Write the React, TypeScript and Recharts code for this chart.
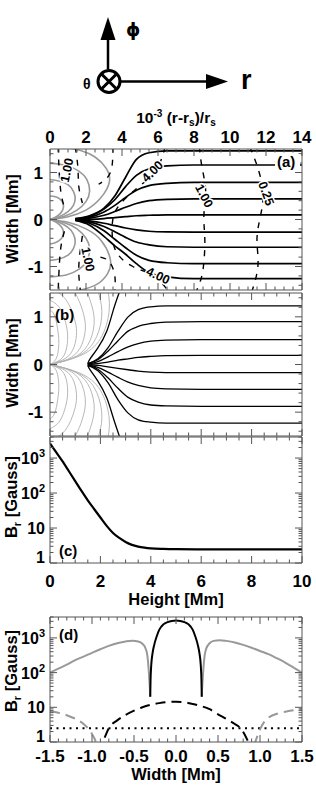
import React from 'react';
import { LineChart, Line, XAxis, YAxis, ReferenceLine, ReferenceDot } from 'recharts';

const FONT = '"Liberation Sans", Arial, Helvetica, sans-serif';
const AXIS = '#555';
const GRAY = '#999';

// ---------- panel (a): field lines, x in 10^-3 (r-rs)/rs ----------
const radialTicksA = [0, 2, 4, 6, 8, 10, 12, 14];
const radialLabelsA = ['0', '2', '4', '6', '8', '10', '12', '14'];
const widthTicks = [-1, 0, 1];
const widthLabels = ['-1', '0', '1'];

const fanXA = [1.4, 2.2, 3.0, 3.6, 4.2, 4.8, 5.5, 6.5, 8.0, 14];
const fanYA = [
  [0.02, 0.08, 0.24, 0.5, 0.9, 1.28, 1.42, 1.46, 1.46, 1.46],
  [0.015, 0.07, 0.22, 0.42, 0.7, 0.94, 1.08, 1.14, 1.16, 1.16],
  [0.01, 0.05, 0.16, 0.3, 0.47, 0.62, 0.72, 0.77, 0.79, 0.79],
  [0.005, 0.03, 0.09, 0.17, 0.26, 0.34, 0.4, 0.43, 0.44, 0.44],
  [0.0, 0.005, 0.02, 0.04, 0.06, 0.08, 0.09, 0.1, 0.1, 0.1],
  [-0.005, -0.03, -0.08, -0.13, -0.18, -0.22, -0.25, -0.265, -0.27, -0.27],
  [-0.01, -0.05, -0.15, -0.26, -0.38, -0.48, -0.54, -0.58, -0.59, -0.59],
  [-0.015, -0.08, -0.24, -0.42, -0.6, -0.76, -0.87, -0.92, -0.94, -0.94],
  [-0.02, -0.12, -0.36, -0.56, -0.74, -0.94, -1.13, -1.22, -1.26, -1.26],
];

const loopsA: number[][][] = [
  [[0, 0], [0.3, 0.05], [0.55, 0.12], [0.7, 0.2], [0.75, 0.29], [0.68, 0.38], [0.5, 0.45], [0.25, 0.49], [0, 0.5]],
  [[0, 0], [0.5, 0.06], [1.0, 0.17], [1.3, 0.3], [1.4, 0.45], [1.3, 0.6], [1.0, 0.74], [0.5, 0.82], [0, 0.85]],
  [[0, 0], [0.8, 0.07], [1.5, 0.2], [2.0, 0.38], [2.2, 0.6], [2.05, 0.85], [1.6, 1.03], [0.9, 1.15], [0, 1.2]],
  [[0, 0], [1.0, 0.06], [2.0, 0.2], [2.8, 0.45], [3.3, 0.8], [3.1, 1.1], [2.5, 1.33], [1.7, 1.47], [0.8, 1.53], [0, 1.55]],
  [[0, 0], [0.3, -0.05], [0.55, -0.12], [0.7, -0.2], [0.75, -0.29], [0.68, -0.38], [0.5, -0.45], [0.25, -0.5], [0, -0.52]],
  [[0, 0], [0.5, -0.06], [1.0, -0.17], [1.3, -0.31], [1.4, -0.47], [1.3, -0.62], [1.0, -0.76], [0.5, -0.84], [0, -0.87]],
  [[0, 0], [0.8, -0.07], [1.5, -0.2], [2.0, -0.4], [2.2, -0.62], [2.05, -0.88], [1.6, -1.06], [0.9, -1.18], [0, -1.22]],
  [[0, 0], [1.0, -0.06], [2.0, -0.2], [2.85, -0.45], [3.35, -0.85], [3.2, -1.15], [2.6, -1.38], [1.7, -1.5], [0.8, -1.56], [0, -1.58]],
];

const contoursA: number[][][] = [
  [[11.1, 1.55], [11.5, 1.15], [11.8, 0.7], [11.8, 0.3], [11.6, -0.1], [11.5, -0.5], [11.55, -1.0], [11.2, -1.55]],
  [[8.3, 1.55], [8.45, 1.1], [8.65, 0.6], [8.55, 0.1], [8.6, -0.4], [8.55, -0.9], [8.4, -1.25], [8.1, -1.55]],
  [[6.4, 1.55], [5.9, 1.05], [5.0, 0.72], [4.2, 0.45], [3.6, 0.15], [3.45, -0.25], [3.7, -0.7], [4.6, -1.0], [5.5, -1.15], [6.2, -1.35], [6.6, -1.55]],
  [[0.45, 1.55], [0.5, 1.1], [0.6, 0.6], [0.8, 0.25]],
  [[0.8, -0.25], [0.6, -0.6], [0.5, -1.1], [0.45, -1.55]],
  [[1.4, 1.55], [1.55, 1.1], [1.6, 0.7], [1.8, 0.35]],
  [[1.8, -0.35], [1.65, -0.75], [1.6, -1.15], [1.7, -1.55]],
  [[3.5, 1.55], [3.45, 1.15], [3.2, 0.9], [2.7, 0.75]],
  [[2.8, -0.8], [3.3, -0.9], [3.6, -1.2], [3.6, -1.55]],
];

const contourLabelsA = [
  { x: 5.7, y: 1.02, text: '4.00' },
  { x: 8.55, y: 0.5, text: '1.00' },
  { x: 12.0, y: 0.55, text: '0.25' },
  { x: 6.0, y: -1.2, text: '4.00' },
  { x: 0.95, y: 1.05, text: '1.00' },
  { x: 2.1, y: -0.85, text: '1.00' },
];
const contourLabelAngles = [-45, 62, 70, 25, -78, 78];

// ---------- panel (b): field lines, x in Mm ----------
const heightTicks = [0, 2, 4, 6, 8, 10];
const heightLabels = ['0', '2', '4', '6', '8', '10'];

const fanXB = [1.5, 1.9, 2.3, 2.7, 3.1, 3.5, 4.0, 4.6, 6.0, 10];
const fanYB = [
  [0.02, 0.12, 0.35, 0.7, 1.0, 1.15, 1.21, 1.23, 1.23, 1.23],
  [0.015, 0.1, 0.28, 0.5, 0.7, 0.8, 0.86, 0.89, 0.9, 0.9],
  [0.01, 0.06, 0.16, 0.27, 0.37, 0.44, 0.49, 0.51, 0.52, 0.52],
  [0.005, 0.02, 0.05, 0.09, 0.12, 0.15, 0.17, 0.185, 0.19, 0.19],
  [-0.005, -0.02, -0.05, -0.08, -0.11, -0.14, -0.16, -0.17, -0.17, -0.17],
  [-0.01, -0.06, -0.16, -0.27, -0.37, -0.44, -0.49, -0.51, -0.52, -0.52],
  [-0.015, -0.1, -0.28, -0.5, -0.69, -0.79, -0.85, -0.87, -0.88, -0.88],
  [-0.02, -0.13, -0.38, -0.74, -1.02, -1.16, -1.21, -1.23, -1.23, -1.23],
];

const separatrixB: number[][][] = [
  [[1.5, 0.02], [1.59, 0.12], [1.9, 0.35], [2.26, 0.71], [2.5, 1.12], [2.74, 1.5], [2.8, 1.6]],
  [[1.5, -0.02], [1.6, -0.12], [1.9, -0.35], [2.25, -0.7], [2.5, -1.1], [2.75, -1.5], [2.8, -1.6]],
];

const loopsB: number[][][] = [
  [[0, 0], [0.18, 0.07], [0.3, 0.21], [0.35, 0.44], [0.33, 0.64], [0.27, 0.85], [0.17, 1.04], [0, 1.15]],
  [[0, 0], [0.35, 0.08], [0.6, 0.24], [0.7, 0.51], [0.67, 0.76], [0.55, 1.0], [0.34, 1.22], [0, 1.35]],
  [[0, 0], [0.52, 0.1], [0.89, 0.29], [1.05, 0.61], [1.0, 0.9], [0.82, 1.18], [0.5, 1.44], [0, 1.6]],
  [[0, 0], [0.7, 0.11], [1.19, 0.34], [1.4, 0.72], [1.33, 1.06], [1.09, 1.41], [0.67, 1.71], [0, 1.9]],
  [[0, 0], [0.88, 0.13], [1.49, 0.4], [1.75, 0.84], [1.66, 1.23], [1.37, 1.63], [0.84, 1.98], [0, 2.2]],
  [[0, 0], [1.03, 0.16], [1.74, 0.47], [2.05, 0.99], [1.95, 1.46], [1.6, 1.92], [0.98, 2.34], [0, 2.6]],
  [[0, 0], [1.18, 0.18], [2.0, 0.54], [2.35, 1.14], [2.23, 1.68], [1.83, 2.22], [1.13, 2.7], [0, 3.0]],
  [[0, 0], [0.18, -0.07], [0.3, -0.21], [0.35, -0.44], [0.33, -0.64], [0.27, -0.85], [0.17, -1.04], [0, -1.15]],
  [[0, 0], [0.35, -0.08], [0.6, -0.24], [0.7, -0.51], [0.67, -0.76], [0.55, -1.0], [0.34, -1.22], [0, -1.35]],
  [[0, 0], [0.52, -0.1], [0.89, -0.29], [1.05, -0.61], [1.0, -0.9], [0.82, -1.18], [0.5, -1.44], [0, -1.6]],
  [[0, 0], [0.7, -0.11], [1.19, -0.34], [1.4, -0.72], [1.33, -1.06], [1.09, -1.41], [0.67, -1.71], [0, -1.9]],
  [[0, 0], [0.88, -0.13], [1.49, -0.4], [1.75, -0.84], [1.66, -1.23], [1.37, -1.63], [0.84, -1.98], [0, -2.2]],
  [[0, 0], [1.03, -0.16], [1.74, -0.47], [2.05, -0.99], [1.95, -1.46], [1.6, -1.92], [0.98, -2.34], [0, -2.6]],
  [[0, 0], [1.18, -0.18], [2.0, -0.54], [2.35, -1.14], [2.23, -1.68], [1.83, -2.22], [1.13, -2.7], [0, -3.0]],
];

// ---------- panel (c): Br vs height ----------
const heightMm = [0, 0.25, 0.5, 0.75, 1, 1.25, 1.5, 1.75, 2, 2.25, 2.5, 2.75, 3, 3.25, 3.5, 3.75, 4, 4.5, 5, 6, 7, 8, 9, 10];
const brAlongHeight = [2600, 1450, 800, 420, 220, 115, 62, 35, 20, 11.5, 7.2, 5.2, 4.0, 3.3, 2.95, 2.75, 2.62, 2.52, 2.48, 2.46, 2.45, 2.45, 2.45, 2.45];

const logMajor = [1, 10, 100, 1000];
const logLabels = ['1', '10', '10^2', '10^3'];

// ---------- panel (d): Br across width ----------
const widthTicksD = [-1.5, -1.0, -0.5, 0, 0.5, 1.0, 1.5];
const widthLabelsD = ['-1.5', '-1.0', '-0.5', '0.0', '0.5', '1.0', '1.5'];

const grayLeftX = [-1.5, -1.4, -1.3, -1.2, -1.1, -1.0, -0.9, -0.8, -0.7, -0.6, -0.52, -0.45, -0.4, -0.36, -0.34, -0.325, -0.315, -0.305];
const grayLeftB = [100, 130, 170, 230, 290, 370, 470, 590, 700, 790, 830, 790, 680, 480, 300, 120, 50, 20];
const grayRightX = [0.305, 0.315, 0.325, 0.34, 0.36, 0.4, 0.45, 0.52, 0.6, 0.7, 0.8, 0.9, 1.0, 1.1, 1.2, 1.3, 1.4, 1.5];
const grayRightB = [20, 50, 120, 300, 490, 700, 820, 860, 820, 740, 630, 520, 420, 340, 260, 195, 140, 100];

const domeX = [-0.307, -0.303, -0.295, -0.28, -0.26, -0.23, -0.2, -0.15, -0.1, -0.05, 0, 0.05, 0.1, 0.15, 0.2, 0.23, 0.26, 0.28, 0.295, 0.303, 0.307];
const domeB = [20, 60, 160, 350, 620, 1100, 1700, 2450, 2850, 3080, 3150, 3080, 2850, 2450, 1700, 1100, 620, 350, 160, 60, 20];

const blackDashX = [-0.92, -0.87, -0.8, -0.7, -0.6, -0.5, -0.4, -0.3, -0.2, -0.1, 0, 0.1, 0.2, 0.3, 0.4, 0.5, 0.6, 0.7, 0.76, 0.82, 0.86, 0.9];
const blackDashB = [0.5, 1.0, 2.5, 4.2, 6.0, 8.0, 10.0, 11.8, 13.2, 14.2, 14.5, 14.0, 12.5, 10.8, 8.8, 6.3, 4.6, 3.3, 2.6, 1.6, 1.0, 0.55];

const grayDashLeftX = [-1.5, -1.4, -1.3, -1.2, -1.1, -1.05, -1.0, -0.96, -0.93];
const grayDashLeftB = [7.7, 7.0, 5.9, 4.7, 3.3, 2.5, 1.7, 1.1, 0.6];
const grayDashRightX = [0.93, 0.96, 1.0, 1.05, 1.1, 1.2, 1.3, 1.4, 1.5];
const grayDashRightB = [0.8, 1.3, 2.3, 3.8, 5.0, 6.5, 7.4, 8.2, 8.7];

const dottedLevel = 2.5;

// ---------- helpers ----------
const zip = (xs: number[], ys: number[]) => xs.map((x, i) => ({ x, y: ys[i] }));
const pairs = (pts: number[][]) => pts.map(([x, y]) => ({ x, y }));

const steps = (lo: number, hi: number, step: number) => {
  const out: number[] = [];
  for (let v = lo; v <= hi + 1e-9; v += step) out.push(Math.round(v * 1000) / 1000);
  return out;
};
const logMinor = [1, 10, 100, 1000].flatMap((d) => [1, 2, 3, 4, 5, 6, 7, 8, 9].map((m) => d * m)).filter((v) => v <= 4000);

const txt = { fontFamily: FONT, fontWeight: 700, fill: '#000' } as const;

const renderLabel = (s: string) => {
  if (!s.includes('^')) return s;
  const [base, exp] = s.split('^');
  return (
    <>
      <tspan>{base}</tspan>
      <tspan dy={-7} fontSize={11}>{exp}</tspan>
    </>
  );
};

type Side = 'top' | 'bottom' | 'left' | 'right';

function axisTick(side: Side, majors: number[], labels?: string[], gap = 0, log = false) {
  return (props: any) => {
    const { x, y, payload } = props;
    const idx = majors.findIndex((m) => Math.abs(m - payload.value) < 1e-6);
    const len = idx >= 0 ? 7 : 3.5;
    const dx = side === 'left' ? len : side === 'right' ? -len : 0;
    const dy = side === 'bottom' ? -len : side === 'top' ? len : 0;
    let label: React.ReactNode = null;
    if (idx >= 0 && labels) {
      if (side === 'left') {
        // the lowest log label sits just above the bottom edge, as in the figure
        const raise = log && idx === 0 ? 0 : 6;
        label = (
          <text x={x - (log ? 5 : 7)} y={y + raise} textAnchor="end" fontSize={log ? 16 : 17} {...txt}>
            {renderLabel(labels[idx])}
          </text>
        );
      } else if (side === 'bottom')
        label = (
          <text x={x} y={y + gap} textAnchor="middle" fontSize={17} {...txt}>
            {labels[idx]}
          </text>
        );
      else if (side === 'top')
        label = (
          <text x={x} y={y - gap} textAnchor="middle" fontSize={17} {...txt}>
            {labels[idx]}
          </text>
        );
    }
    return (
      <g>
        <line x1={x} y1={y} x2={x + dx} y2={y + dy} stroke={AXIS} strokeWidth={1} />
        {label}
      </g>
    );
  };
}

const axisCommon = {
  allowDataOverflow: true,
  interval: 0 as const,
  tickSize: 0,
  tickMargin: 0,
  tickLine: false,
  axisLine: { stroke: AXIS, strokeWidth: 1 },
};

interface FrameOpts {
  xDomain: [number, number];
  xTicks: number[];
  xMajors: number[];
  topLabels?: string[];
  bottomLabels?: string[];
  topH: number;
  bottomH: number;
  topGap?: number;
  bottomGap?: number;
  yDomain: [number, number];
  yTicks: number[];
  yMajors: number[];
  yLabels: string[];
  log?: boolean;
}

function frame(o: FrameOpts) {
  const yScale = o.log ? 'log' : 'auto';
  return [
    <XAxis key="xb" xAxisId="b" dataKey="x" type="number" orientation="bottom" domain={o.xDomain} ticks={o.xTicks} height={o.bottomH}
      tick={axisTick('bottom', o.xMajors, o.bottomLabels, o.bottomGap)} {...axisCommon} />,
    <XAxis key="xt" xAxisId="t" dataKey="x" type="number" orientation="top" domain={o.xDomain} ticks={o.xTicks} height={o.topH}
      tick={axisTick('top', o.xMajors, o.topLabels, o.topGap)} {...axisCommon} />,
    <YAxis key="yl" yAxisId="l" type="number" orientation="left" scale={yScale} domain={o.yDomain} ticks={o.yTicks} width={50}
      tick={axisTick('left', o.yMajors, o.yLabels, 0, !!o.log)} {...axisCommon} />,
    <YAxis key="yr" yAxisId="r" type="number" orientation="right" scale={yScale} domain={o.yDomain} ticks={o.yTicks} width={14}
      tick={axisTick('right', o.yMajors)} {...axisCommon} />,
  ];
}

const lineCommon = {
  xAxisId: 'b',
  yAxisId: 'l',
  dataKey: 'y',
  dot: false,
  activeDot: false,
  isAnimationActive: false,
};

const M0 = { top: 0, right: 0, bottom: 0, left: 0 };

function PanelA() {
  return (
    <LineChart width={316} height={192} margin={M0}>
      {frame({
        xDomain: [0, 14], xTicks: steps(0, 14, 0.5), xMajors: radialTicksA, topLabels: radialLabelsA,
        topH: 49, bottomH: 2, topGap: 6,
        yDomain: [-1.5, 1.5], yTicks: steps(-1.4, 1.4, 0.2), yMajors: widthTicks, yLabels: widthLabels,
      })}
      {loopsA.map((pts, i) => (
        <Line key={`ga${i}`} {...lineCommon} data={pairs(pts)} type="natural" stroke={GRAY} strokeWidth={1.6} />
      ))}
      {contoursA.map((pts, i) => (
        <Line key={`ca${i}`} {...lineCommon} data={pairs(pts)} type="natural" stroke="#000" strokeWidth={1.4} strokeDasharray="6 7" />
      ))}
      {fanYA.map((ys, i) => (
        <Line key={`fa${i}`} {...lineCommon} data={zip(fanXA, ys)} type="monotone" stroke="#000" strokeWidth={1.7} />
      ))}
      {contourLabelsA.map((l, i) => (
        <ReferenceDot
          key={`la${i}`}
          xAxisId="b"
          yAxisId="l"
          x={l.x}
          y={l.y}
          r={0}
          shape={(p: any) => (
            <text
              x={p.cx}
              y={p.cy}
              transform={`rotate(${contourLabelAngles[i]} ${p.cx} ${p.cy})`}
              textAnchor="middle"
              dominantBaseline="central"
              fontSize={12.5}
              stroke="#fff"
              strokeWidth={3}
              paintOrder="stroke"
              {...txt}
            >
              {l.text}
            </text>
          )}
        />
      ))}
    </LineChart>
  );
}

function PanelB() {
  return (
    <LineChart width={316} height={146} margin={M0}>
      {frame({
        xDomain: [0, 10], xTicks: steps(0, 10, 0.5), xMajors: heightTicks,
        topH: 1, bottomH: 2,
        yDomain: [-1.5, 1.5], yTicks: steps(-1.4, 1.4, 0.2), yMajors: widthTicks, yLabels: widthLabels,
      })}
      {loopsB.map((pts, i) => (
        <Line key={`gb${i}`} {...lineCommon} data={pairs(pts)} type="natural" stroke="#b0b0b0" strokeWidth={0.9} />
      ))}
      {separatrixB.map((pts, i) => (
        <Line key={`sb${i}`} {...lineCommon} data={pairs(pts)} type="natural" stroke="#000" strokeWidth={1.3} />
      ))}
      {fanYB.map((ys, i) => (
        <Line key={`fb${i}`} {...lineCommon} data={zip(fanXB, ys)} type="monotone" stroke="#000" strokeWidth={1.3} />
      ))}
    </LineChart>
  );
}

function PanelC() {
  return (
    <LineChart width={316} height={180} margin={M0}>
      {frame({
        xDomain: [0, 10], xTicks: steps(0, 10, 0.5), xMajors: heightTicks, bottomLabels: heightLabels,
        topH: 1, bottomH: 53, bottomGap: 24,
        yDomain: [1, 4000], yTicks: logMinor, yMajors: logMajor, yLabels: logLabels, log: true,
      })}
      <Line {...lineCommon} data={zip(heightMm, brAlongHeight)} type="monotone" stroke="#000" strokeWidth={2.2} />
    </LineChart>
  );
}

function PanelD() {
  return (
    <LineChart width={316} height={180} margin={M0}>
      {frame({
        xDomain: [-1.5, 1.5], xTicks: steps(-1.5, 1.5, 0.1), xMajors: widthTicksD, bottomLabels: widthLabelsD,
        topH: 17, bottomH: 38, bottomGap: 20,
        yDomain: [1, 4000], yTicks: logMinor, yMajors: logMajor, yLabels: logLabels, log: true,
      })}
      <ReferenceLine xAxisId="b" yAxisId="l" y={dottedLevel} stroke="#000" strokeWidth={2} strokeDasharray="2 4.5" />
      <Line {...lineCommon} data={zip(grayDashLeftX, grayDashLeftB)} type="monotone" stroke={GRAY} strokeWidth={2} strokeDasharray="10 6" />
      <Line {...lineCommon} data={zip(grayDashRightX, grayDashRightB)} type="monotone" stroke={GRAY} strokeWidth={2} strokeDasharray="10 6" />
      <Line {...lineCommon} data={zip(blackDashX, blackDashB)} type="monotone" stroke="#000" strokeWidth={2} strokeDasharray="10 6" />
      <Line {...lineCommon} data={zip(grayLeftX, grayLeftB)} type="monotone" stroke={GRAY} strokeWidth={2} />
      <Line {...lineCommon} data={zip(grayRightX, grayRightB)} type="monotone" stroke={GRAY} strokeWidth={2} />
      <Line {...lineCommon} data={zip(domeX, domeB)} type="monotone" stroke="#000" strokeWidth={2} />
    </LineChart>
  );
}

function Overlay() {
  const vTitle = (cx: number, cy: number, body: React.ReactNode) => (
    <text transform={`translate(${cx},${cy}) rotate(-90)`} textAnchor="middle" fontSize={16.5} {...txt}>
      {body}
    </text>
  );
  const brTitle = (
    <>
      B<tspan dy={4} fontSize={11}>r</tspan>
      <tspan dy={-4}> [Gauss]</tspan>
    </>
  );
  return (
    <svg width={316} height={789} style={{ position: 'absolute', left: 0, top: 0, pointerEvents: 'none' }}>
      {/* coordinate glyph */}
      <line x1={108} y1={69} x2={108} y2={38} stroke="#000" strokeWidth={2.5} />
      <polygon points="108,17 100.5,40 115.5,40" fill="#000" />
      <text x={126} y={36} fontSize={18} {...txt} fontFamily={'"DejaVu Sans", ' + FONT}>ϕ</text>
      <circle cx={109} cy={81.5} r={11} fill="none" stroke="#000" strokeWidth={3} />
      <line x1={102} y1={74.5} x2={116} y2={88.5} stroke="#000" strokeWidth={3} />
      <line x1={102} y1={88.5} x2={116} y2={74.5} stroke="#000" strokeWidth={3} />
      <text x={83} y={89} fontSize={14} {...txt}>θ</text>
      <line x1={121} y1={81.5} x2={210} y2={81.5} stroke="#000" strokeWidth={2.5} />
      <polygon points="228,81.5 206,74 206,89" fill="#000" />
      <text x={241} y={89} fontSize={27} {...txt}>r</text>

      {/* top axis title */}
      <text x={176} y={123} textAnchor="middle" fontSize={15.5} {...txt}>
        10<tspan dy={-6} fontSize={10}>-3</tspan>
        <tspan dy={6}> (r-r</tspan>
        <tspan dy={3} fontSize={10}>s</tspan>
        <tspan dy={-3}>)/r</tspan>
        <tspan dy={3} fontSize={10}>s</tspan>
      </text>

      {/* y titles */}
      {vTitle(18, 219, 'Width [Mm]')}
      {vTitle(18, 363, 'Width [Mm]')}
      {vTitle(17, 497, brTitle)}
      {vTitle(17, 671, brTitle)}

      {/* x titles */}
      <text x={176} y={605} textAnchor="middle" fontSize={16.5} {...txt}>Height [Mm]</text>
      <text x={176} y={780} textAnchor="middle" fontSize={16.5} {...txt}>Width [Mm]</text>

      {/* panel letters */}
      <rect x={275} y={154} width={25} height={16} fill="#fff" />
      <text x={277} y={167} fontSize={15} {...txt}>(a)</text>
      <text x={55} y={320} fontSize={15} {...txt}>(b)</text>
      <text x={59} y={556} fontSize={15} {...txt}>(c)</text>
      <text x={59} y={640} fontSize={15} {...txt}>(d)</text>
    </svg>
  );
}

export default function App() {
  return (
    <div style={{ position: 'absolute', left: 0, top: 0, width: 316, height: 789, background: '#fff', overflow: 'hidden' }}>
      <div style={{ position: 'absolute', left: 0, top: 100 }}><PanelA /></div>
      <div style={{ position: 'absolute', left: 0, top: 292 }}><PanelB /></div>
      <div style={{ position: 'absolute', left: 0, top: 436 }}><PanelC /></div>
      <div style={{ position: 'absolute', left: 0, top: 600 }}><PanelD /></div>
      <Overlay />
    </div>
  );
}
